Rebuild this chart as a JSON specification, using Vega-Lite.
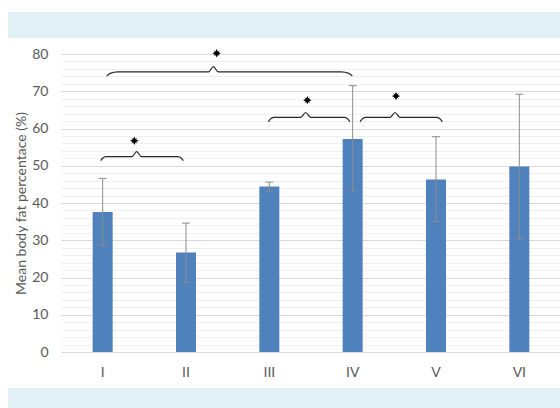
{
  "$schema": "https://vega.github.io/schema/vega-lite/v6.json",
  "padding": {"top": 12, "left": 8, "right": 0, "bottom": 0},
  "background": "white",
  "config": {
    "view": {"stroke": null},
    "font": "Lato"
  },
  "datasets": {
    "groups": [
      {"group": "I", "mean": 37.6, "low": 28.6, "high": 46.6},
      {"group": "II", "mean": 26.7, "low": 18.7, "high": 34.6},
      {"group": "III", "mean": 44.4, "low": 43.2, "high": 45.6},
      {"group": "IV", "mean": 57.2, "low": 43.0, "high": 71.5},
      {"group": "V", "mean": 46.3, "low": 35.0, "high": 57.8},
      {"group": "VI", "mean": 49.8, "low": 30.4, "high": 69.2}
    ],
    "braces": [
      {"brace": "A", "bx": 0.476, "by": 51.36},
      {"brace": "A", "bx": 0.5, "by": 52.0},
      {"brace": "A", "bx": 0.54, "by": 52.43},
      {"brace": "A", "bx": 0.85, "by": 52.43},
      {"brace": "A", "bx": 0.908, "by": 53.77},
      {"brace": "A", "bx": 0.966, "by": 52.43},
      {"brace": "A", "bx": 1.404, "by": 52.43},
      {"brace": "A", "bx": 1.444, "by": 52.0},
      {"brace": "A", "bx": 1.468, "by": 51.36},
      {"brace": "B", "bx": 0.548, "by": 74.1},
      {"brace": "B", "bx": 0.59, "by": 74.8},
      {"brace": "B", "bx": 0.68, "by": 75.2},
      {"brace": "B", "bx": 1.77, "by": 75.2},
      {"brace": "B", "bx": 1.828, "by": 76.6},
      {"brace": "B", "bx": 1.886, "by": 75.2},
      {"brace": "B", "bx": 3.364, "by": 75.2},
      {"brace": "B", "bx": 3.454, "by": 74.8},
      {"brace": "B", "bx": 3.496, "by": 74.1},
      {"brace": "C", "bx": 2.488, "by": 61.8},
      {"brace": "C", "bx": 2.512, "by": 62.5},
      {"brace": "C", "bx": 2.552, "by": 63.0},
      {"brace": "C", "bx": 2.878, "by": 63.0},
      {"brace": "C", "bx": 2.936, "by": 64.3},
      {"brace": "C", "bx": 2.994, "by": 63.0},
      {"brace": "C", "bx": 3.404, "by": 63.0},
      {"brace": "C", "bx": 3.444, "by": 62.5},
      {"brace": "C", "bx": 3.468, "by": 61.8},
      {"brace": "D", "bx": 3.588, "by": 61.8},
      {"brace": "D", "bx": 3.612, "by": 62.5},
      {"brace": "D", "bx": 3.652, "by": 63.0},
      {"brace": "D", "bx": 3.95, "by": 63.0},
      {"brace": "D", "bx": 4.008, "by": 64.3},
      {"brace": "D", "bx": 4.066, "by": 63.0},
      {"brace": "D", "bx": 4.512, "by": 63.0},
      {"brace": "D", "bx": 4.552, "by": 62.5},
      {"brace": "D", "bx": 4.576, "by": 61.8}
    ],
    "stars": [
      {"brace": "A", "sx": 0.88, "sy": 56.7},
      {"brace": "B", "sx": 1.868, "sy": 80.2},
      {"brace": "C", "sx": 2.956, "sy": 67.6},
      {"brace": "D", "sx": 4.02, "sy": 68.7}
    ]
  },
  "spacing": 9,
  "vconcat": [
    {
      "width": 552,
      "height": 26,
      "view": {"fill": "#e2f1f6", "stroke": null},
      "data": {"values": [{}]},
      "mark": {"type": "text", "text": ""}
    },
    {
      "spacing": 5,
      "hconcat": [
        {
          "width": 1,
          "height": 1,
          "data": {"values": [{}]},
          "mark": {"type": "text", "text": ""}
        },
        {
          "width": 500,
          "height": 298,
          "resolve": {"scale": {"x": "independent"}, "axis": {"x": "independent", "y": "independent"}},
          "layer": [
            {
              "data": {"name": "groups"},
              "resolve": {"axis": {"y": "independent"}},
              "encoding": {
                "x": {
                  "field": "group", "type": "nominal", "sort": null, "title": null,
                  "scale": {"paddingInner": 0.76, "paddingOuter": 0.38},
                  "axis": {"domain": false, "ticks": false, "labelPadding": 13, "labelFontSize": 14, "labelColor": "#595959", "labelAngle": 0, "grid": false}
                }
              },
              "layer": [
                {
                  "mark": {"type": "rule", "color": "#8c8c8c", "strokeWidth": 0, "opacity": 0},
                  "encoding": {
                    "y": {
                      "field": "low", "type": "quantitative", "title": null,
                      "scale": {"domain": [0, 80], "nice": false},
                      "axis": {
                        "orient": "right",
                        "values": [2,4,6,8,12,14,16,18,22,24,26,28,32,34,36,38,42,44,46,48,52,54,56,58,62,64,66,68,72,74,76,78],
                        "labels": false, "ticks": false, "domain": false, "title": null,
                        "grid": true, "gridColor": "#efefef", "gridWidth": 1
                      }
                    },
                    "y2": {"field": "high"}
                  }
                },
                {
                  "mark": {"type": "bar", "color": "#4f81bd"},
                  "encoding": {
                    "y": {
                      "field": "mean", "type": "quantitative",
                      "title": "Mean body fat percentace (%)",
                      "scale": {"domain": [0, 80], "nice": false},
                      "axis": {
                        "values": [0, 10, 20, 30, 40, 50, 60, 70, 80],
                        "grid": true,
                        "gridColor": "#d9d9d9",
                        "domain": false,
                        "ticks": false,
                        "labelPadding": 13,
                        "labelFontSize": 14,
                        "labelColor": "#595959",
                        "labelFlush": false,
                        "titleFontSize": 14,
                        "titleColor": "#595959",
                        "titleFontWeight": "normal",
                        "titlePadding": 3
                      }
                    }
                  }
                },
                {
                  "mark": {"type": "rule", "color": "#8c8c8c", "strokeWidth": 1},
                  "encoding": {
                    "y": {"field": "low", "type": "quantitative", "axis": null},
                    "y2": {"field": "high"}
                  }
                },
                {
                  "mark": {"type": "point", "shape": "stroke", "size": 64, "filled": false, "color": "#8c8c8c", "strokeWidth": 1, "opacity": 1},
                  "encoding": {
                    "y": {"field": "low", "type": "quantitative", "axis": null}
                  }
                },
                {
                  "mark": {"type": "point", "shape": "stroke", "size": 64, "filled": false, "color": "#8c8c8c", "strokeWidth": 1, "opacity": 1},
                  "encoding": {
                    "y": {"field": "high", "type": "quantitative", "axis": null}
                  }
                }
              ]
            },
            {
              "layer": [
                {
                  "data": {"name": "braces"},
                  "mark": {"type": "line", "color": "#262626", "strokeWidth": 1.2, "interpolate": "monotone"},
                  "encoding": {
                    "x": {"field": "bx", "type": "quantitative", "scale": {"domain": [0, 6], "nice": false, "zero": false}, "axis": null},
                    "y": {"field": "by", "type": "quantitative", "axis": null},
                    "detail": {"field": "brace"}
                  }
                },
                {
                  "data": {"name": "stars"},
                  "mark": {
                    "type": "point",
                    "shape": "M0,-1L0.28,-0.42L0.72,-0.72L0.42,-0.28L1,0L0.42,0.28L0.72,0.72L0.28,0.42L0,1L-0.28,0.42L-0.72,0.72L-0.42,0.28L-1,0L-0.42,-0.28L-0.72,-0.72L-0.28,-0.42Z",
                    "filled": true,
                    "size": 70,
                    "color": "#000000",
                    "opacity": 1
                  },
                  "encoding": {
                    "x": {"field": "sx", "type": "quantitative", "scale": {"domain": [0, 6], "nice": false, "zero": false}, "axis": null},
                    "y": {"field": "sy", "type": "quantitative", "axis": null}
                  }
                }
              ]
            }
          ]
        }
      ]
    },
    {
      "width": 552,
      "height": 20,
      "view": {"fill": "#e2f1f6", "stroke": null},
      "data": {"values": [{}]},
      "mark": {"type": "text", "text": ""}
    }
  ]
}
